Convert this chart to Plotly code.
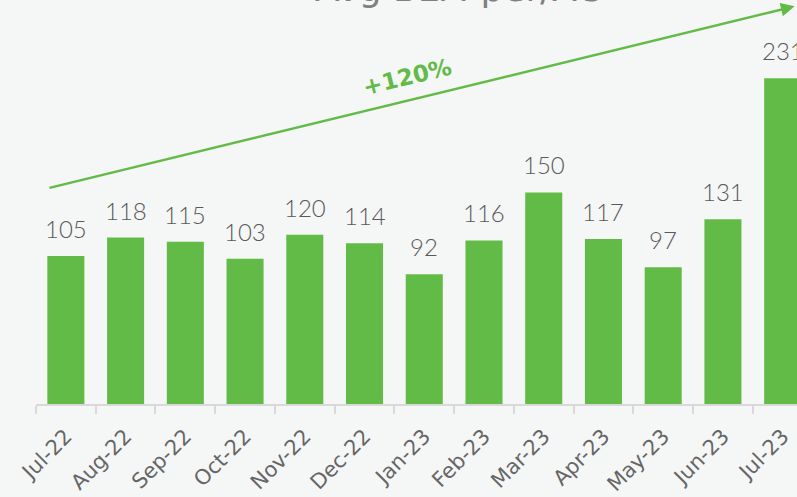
import plotly.graph_objects as go

months = ["Jul-22", "Aug-22", "Sep-22", "Oct-22", "Nov-22", "Dec-22", "Jan-23",
          "Feb-23", "Mar-23", "Apr-23", "May-23", "Jun-23", "Jul-23"]
values = [105, 118, 115, 103, 120, 114, 92, 116, 150, 117, 97, 131, 231]
title_text = "Avg BLM per/AC"
growth_label = "+120%"

GREEN = "#62bb46"
GREY = "#666666"
BG = "#f5f6f6"
FONT = "Century Gothic, DejaVu Sans, sans-serif"
LABEL_FONT = "Lato, DejaVu Sans, sans-serif"

fig = go.Figure()
fig.add_trace(go.Bar(
    x=months, y=values,
    marker=dict(color=GREEN, line=dict(width=0)),
    width=0.62,
    cliponaxis=False,
    hoverinfo="x+y",
))

# value labels above bars
for m, v in zip(months, values):
    fig.add_annotation(
        x=m, y=v, xref="x", yref="y", text=str(v), showarrow=False,
        yanchor="bottom", yshift=11,
        font=dict(size=24, color="#595959", family=LABEL_FONT, weight=300),
    )

# trend arrow (data coordinates: category index / value)
fig.add_annotation(
    x=12.2, y=282, ax=-0.3, ay=153, xref="x", yref="y", axref="x", ayref="y",
    showarrow=True, arrowhead=2, arrowsize=1.1, arrowwidth=2.5, arrowcolor=GREEN,
    text="",
)
fig.add_annotation(
    x=5.71, y=232, xref="x", yref="y", text="<b>" + growth_label + "</b>",
    showarrow=False, textangle=-13.7,
    font=dict(size=23, color=GREEN, family=FONT),
)
fig.add_annotation(
    x=0.5545, y=0.972, xref="paper", yref="paper", yanchor="bottom",
    text=title_text, showarrow=False,
    font=dict(size=36, color="#808080", family=FONT),
)

fig.update_layout(
    width=797, height=497,
    margin=dict(l=36, r=0, t=0, b=93, autoexpand=False),
    paper_bgcolor=BG, plot_bgcolor=BG,
    showlegend=False,
    bargap=0.38,
    font=dict(family=FONT, color=GREY),
)
fig.update_xaxes(
    type="category",
    range=[-0.5, 12.24], automargin=False,
    tickangle=-45, tickfont=dict(size=21, color=GREY, family=FONT),
    ticklabelstandoff=10,
    showline=True, linecolor="#d9d9d9", linewidth=1.5,
    ticks="outside", tickson="boundaries", ticklen=8, tickcolor="#d9d9d9", tickwidth=1.5,
    showgrid=False, zeroline=False,
)
fig.update_yaxes(range=[0, 286.5], visible=False, showgrid=False, zeroline=False, automargin=False)

fig.write_html(
    "out.html",
    config={"displayModeBar": False},
    post_script="document.body.style.margin='0';document.body.style.background='" + BG + "';",
)
